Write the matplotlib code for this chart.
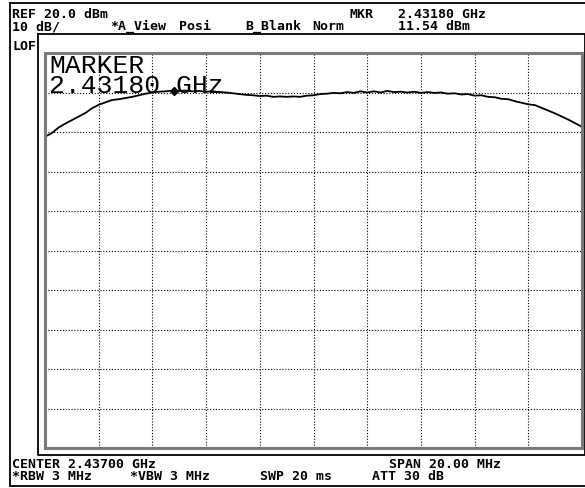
import numpy as np
import matplotlib
matplotlib.use("Agg")
import matplotlib.pyplot as plt

# screen header / footer texts (x pixel, row)
header_top = [("REF 20.0 dBm", 12), ("MKR", 350), ("2.43180 GHz", 398)]
header_bot = [("10 dB/", 12), ("*A_View", 110), ("Posi", 179), ("B_Blank", 245),
              ("Norm", 312), ("11.54 dBm", 398)]
footer_top = [("CENTER 2.43700 GHz", 12), ("SPAN 20.00 MHz", 389)]
footer_bot = [("*RBW 3 MHz", 12), ("*VBW 3 MHz", 130), ("SWP 20 ms", 260), ("ATT 30 dB", 372)]
marker_lines = ["MARKER", "2.43180 GHz"]

ref_level = 20.0
db_per_div = 10.0
center_mhz = 2437.0
span_mhz = 20.0
marker_mhz = 2431.8

# trace, dBm (81 sweep points across the span)
trace = [-1.2, -0.3, 1.1, 2.1, 3.0, 3.9, 4.8, 6.0, 6.9, 7.5,
         8.1, 8.3, 8.6, 8.9, 9.3, 9.7, 10.0, 10.2, 10.3, 10.5,
         10.4, 10.5, 10.3, 10.4, 10.2, 10.3, 10.1, 10.0, 9.8, 9.6,
         9.4, 9.3, 9.1, 9.2, 8.9, 9.0, 8.9, 9.0, 8.9, 9.2,
         9.3, 9.6, 9.7, 9.9, 9.8, 10.1, 9.9, 10.3, 10.0, 10.3,
         10.0, 10.4, 10.1, 10.2, 10.0, 10.2, 9.9, 10.1, 9.9, 10.0,
         9.7, 9.8, 9.5, 9.6, 9.2, 9.3, 8.9, 8.8, 8.4, 8.3,
         7.8, 7.4, 7.0, 6.8, 6.1, 5.4, 4.7, 3.9, 3.1, 2.2, 1.3]

W, H = 585, 489
fig = plt.figure(figsize=(W / 100, H / 100), dpi=100)

# overlay axes in pixel coordinates for frames and screen text
ov = fig.add_axes([0, 0, 1, 1])
ov.set_xlim(0, W)
ov.set_ylim(H, 0)
ov.axis("off")

ov.plot([10, 585], [4, 4], color="black", lw=1.3)
ov.plot([10, 10], [4, 487], color="black", lw=1.3)
ov.plot([10, 585], [487, 487], color="black", lw=1.3)
ov.plot([38, 585, 585, 38, 38], [35, 35, 456, 456, 35], color="black", lw=1.3)

small = dict(family="DejaVu Sans Mono", fontsize=9.5, fontweight="bold", va="baseline")
for txt, x in header_top:
    ov.text(x, 18, txt, **small)
for txt, x in header_bot:
    ov.text(x, 30, txt, **small)
ov.text(12, 50, "LOF", **small)
for txt, x in footer_top:
    ov.text(x, 468, txt, **small)
for txt, x in footer_bot:
    ov.text(x, 480, txt, **small)

# trace axes (graticule)
left, right, top, bottom = 45, 582, 54, 449
ax = fig.add_axes([left / W, 1 - bottom / H, (right - left) / W, (bottom - top) / H])
freq = np.linspace(center_mhz - span_mhz / 2, center_mhz + span_mhz / 2, len(trace))
ax.set_xlim(freq[0], freq[-1])
ax.set_ylim(ref_level - 10 * db_per_div, ref_level)
ax.set_xticks(np.linspace(freq[0], freq[-1], 11))
ax.set_yticks(np.arange(ref_level - 10 * db_per_div, ref_level + 1, db_per_div))
ax.grid(True, color="black", lw=0.8, ls=(0, (1, 1.6)))
ax.tick_params(length=0, labelbottom=False, labelleft=False)
for s in ax.spines.values():
    s.set_color("#7a7a7a")
    s.set_linewidth(2.2)
ax.plot(freq, trace, color="black", lw=1.3)
mk = np.interp(marker_mhz, freq, trace)
ax.plot([marker_mhz], [mk], marker="D", ms=4.5, color="black")

# marker readout, courier-like face
ax.text(49, 54, "\n".join(marker_lines), family=["Liberation Mono"], fontsize=19,
        va="top", ha="left", linespacing=0.8,
        transform=ov.transData, clip_on=False)

fig.savefig("out.png", dpi=100)
